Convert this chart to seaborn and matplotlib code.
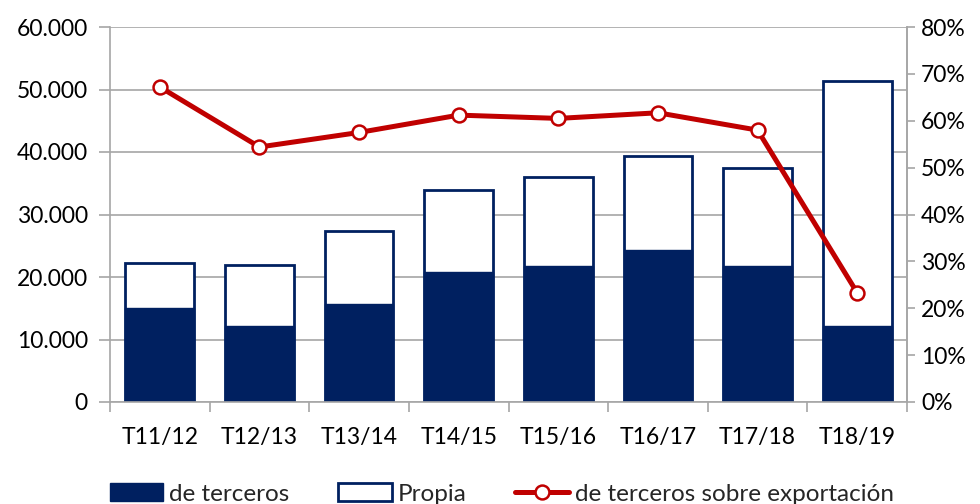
import matplotlib
matplotlib.use("Agg")
import matplotlib.pyplot as plt
from matplotlib.patches import Patch
from matplotlib.lines import Line2D
from matplotlib.ticker import FuncFormatter, FixedLocator
import seaborn as sns
import pandas as pd

categories = ["T11/12", "T12/13", "T13/14", "T14/15", "T15/16", "T16/17", "T17/18", "T18/19"]
terceros = [15100, 12200, 15700, 20800, 21800, 24300, 21800, 12100]
propia = [7200, 9800, 11600, 13100, 14200, 15000, 15700, 39300]
pct_terceros = [67.2, 54.4, 57.5, 61.2, 60.5, 61.7, 58.0, 23.3]

NAVY = "#002060"
RED = "#C00000"
GRID = "#a6a6a6"

sns.set_theme(style="white")
plt.rcParams["font.family"] = ["Lato", "DejaVu Sans"]
FS = 16.5

df = pd.DataFrame({"cat": categories, "terceros": terceros, "propia": propia,
                   "pct": pct_terceros})
df["total"] = df["terceros"] + df["propia"]

fig = plt.figure(figsize=(9.8, 5.04), dpi=100)
ax = fig.add_axes([110 / 980, 102 / 504, 797 / 980, 375 / 504])

sns.barplot(data=df, x="cat", y="total", ax=ax, color="white", edgecolor=NAVY,
            linewidth=2, width=0.69, saturation=1)
sns.barplot(data=df, x="cat", y="terceros", ax=ax, color=NAVY, edgecolor=NAVY,
            linewidth=1, width=0.69, saturation=1)

ax.set_xlim(-0.5, 7.5)
ax.set_ylim(0, 60000)
ax.set_yticks(range(0, 60001, 10000))
ax.yaxis.set_major_formatter(FuncFormatter(lambda v, p: f"{int(v):,}".replace(",", ".")))
ax.set_xlabel("")
ax.set_ylabel("")
ax.set_axisbelow(True)
ax.grid(axis="y", color=GRID, linewidth=1.2)
ax.grid(axis="x", visible=False)
ax.spines["top"].set_visible(False)
for s in ["left", "bottom", "right"]:
    ax.spines[s].set_color(GRID)
    ax.spines[s].set_linewidth(1.2)
ax.tick_params(axis="y", which="major", length=8, width=1.2, color=GRID,
               labelsize=FS, pad=8, left=True, labelcolor="black")
ax.tick_params(axis="x", which="major", length=0, labelsize=FS, pad=18, labelcolor="black")
ax.xaxis.set_minor_locator(FixedLocator([i - 0.5 for i in range(9)]))
ax.tick_params(axis="x", which="minor", length=7, width=1.2, color=GRID, bottom=True)

ax2 = ax.twinx()
sns.pointplot(data=df, x="cat", y="pct", ax=ax2, color=RED, markers="o",
              linestyles="-", native_scale=False)
for ln in ax2.lines:
    ln.set_linewidth(3.6)
    ln.set_markersize(10)
    ln.set_markerfacecolor("white")
    ln.set_markeredgecolor(RED)
    ln.set_markeredgewidth(1.8)
ax2.set_ylim(0, 80)
ax2.set_yticks(range(0, 81, 10))
ax2.yaxis.set_major_formatter(FuncFormatter(lambda v, p: f"{int(v)}%"))
ax2.set_ylabel("")
ax2.set_xlabel("")
ax2.grid(False)
ax2.set_xlim(-0.5, 7.5)
for s in ["top", "left", "bottom"]:
    ax2.spines[s].set_visible(False)
ax2.spines["right"].set_color(GRID)
ax2.spines["right"].set_linewidth(1.2)
ax2.tick_params(axis="y", length=6, width=1.2, color=GRID, labelsize=FS, pad=4,
                right=True, labelcolor="black")

handles = [
    Patch(facecolor=NAVY, edgecolor=NAVY),
    Patch(facecolor="white", edgecolor=NAVY, linewidth=2),
    Line2D([0], [0], color=RED, linewidth=3.6, marker="o", markersize=10,
           markerfacecolor="white", markeredgecolor=RED, markeredgewidth=1.8),
]
labels = ["de terceros", "Propia", "de terceros sobre exportación"]
fig.legend(handles, labels, loc="center", bbox_to_anchor=(0.512, 10 / 504), ncol=3,
           frameon=False, fontsize=17.5, handlelength=2.2, handleheight=0.7,
           handletextpad=0.25, columnspacing=2.0)

fig.savefig("out.png", dpi=100)
